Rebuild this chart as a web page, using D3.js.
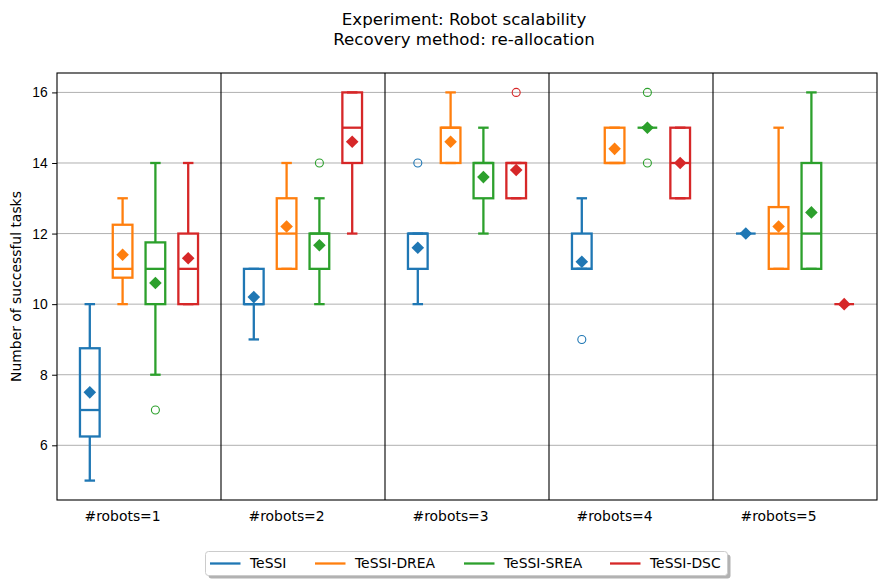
<!doctype html>
<html lang="en">
<head>
  <meta charset="utf-8">
  <title>Robot scalability</title>
  <style>
    body { margin: 0; background: #fff; }
    svg { font-family: "DejaVu Sans", sans-serif; }
    .grid line { stroke: #b0b0b0; stroke-width: 1; }
    .tick text { font-size: 13.9px; fill: #000; }
  </style>
</head>
<body>
  <div id="chart"></div>

  <script src="https://d3js.org/d3.v7.min.js"></script>
  <script>
    // groups along x and the four methods
    const categories = ['#robots=1', '#robots=2', '#robots=3', '#robots=4', '#robots=5'];
    const methods = ['TeSSI', 'TeSSI-DREA', 'TeSSI-SREA', 'TeSSI-DSC'];
    const colors = ['#1f77b4', '#ff7f0e', '#2ca02c', '#d62728'];
    const yTicks = [6, 8, 10, 12, 14, 16];

    // box stats per group: [whisker low, q1, median, q3, whisker high]
    const tessiBoxes = [[5, 6.25, 7, 8.75, 10], [9, 10, 10, 11, 11], [10, 11, 12, 12, 12], [11, 11, 11, 12, 13], [12, 12, 12, 12, 12]];
    const dreaBoxes = [[10, 10.75, 11, 12.25, 13], [11, 11, 12, 13, 14], [14, 14, 15, 15, 16], [14, 14, 14, 15, 15], [11, 11, 12, 12.75, 15]];
    const sreaBoxes = [[8, 10, 11, 11.75, 14], [10, 11, 12, 12, 13], [12, 13, 14, 14, 15], [15, 15, 15, 15, 15], [11, 11, 12, 14, 16]];
    const dscBoxes = [[10, 10, 11, 12, 14], [12, 14, 15, 16, 16], [13, 13, 14, 14, 14], [13, 13, 14, 15, 15], [10, 10, 10, 10, 10]];

    // means per group
    const tessiMeans = [7.5, 10.2, 11.6, 11.2, 12];
    const dreaMeans = [11.4, 12.2, 14.6, 14.4, 12.2];
    const sreaMeans = [10.6, 11.67, 13.6, 15, 12.6];
    const dscMeans = [11.3, 14.6, 13.8, 14, 10];

    // outliers per group
    const tessiFliers = [[], [], [14], [9], []];
    const dreaFliers = [[], [], [], [], []];
    const sreaFliers = [[7], [14], [], [14, 16], []];
    const dscFliers = [[], [], [16], [], []];

    const boxes = [tessiBoxes, dreaBoxes, sreaBoxes, dscBoxes];
    const means = [tessiMeans, dreaMeans, sreaMeans, dscMeans];
    const fliers = [tessiFliers, dreaFliers, sreaFliers, dscFliers];

    const width = 890, height = 586;
    const plotLeft = 57, plotRight = 877, plotTop = 73, plotBottom = 500;

    const svg = d3.select('#chart').append('svg')
      .attr('width', width)
      .attr('height', height);

    // 5 slots per group, boxes at slots 1..4, divider at slot 5
    const x = d3.scaleLinear().domain([0, 25]).range([plotLeft, plotRight]);
    const y = d3.scaleLinear().domain([4.45, 16.55]).range([plotBottom, plotTop]);
    const pos = (g, m) => 5 * g + m + 1;
    const boxW = x(0.6) - x(0);
    const capW = x(0.32) - x(0);

    // grid
    svg.append('g').attr('class', 'grid')
      .selectAll('line')
      .data(yTicks)
      .join('line')
      .attr('x1', plotLeft).attr('x2', plotRight)
      .attr('y1', d => y(d)).attr('y2', d => y(d));

    // group dividers
    svg.append('g')
      .selectAll('line')
      .data(d3.range(1, 5))
      .join('line')
      .attr('x1', d => x(5 * d)).attr('x2', d => x(5 * d))
      .attr('y1', plotTop).attr('y2', plotBottom)
      .attr('stroke', '#000').attr('stroke-width', 1.1);

    // y axis
    const yAxis = d3.axisLeft(y).tickValues(yTicks).tickSize(4.9).tickPadding(4.5).tickFormat(d3.format('d'));
    svg.append('g')
      .attr('transform', `translate(${plotLeft},0)`)
      .call(yAxis)
      .call(g => g.select('.domain').remove())
      .call(g => g.selectAll('.tick line').attr('stroke', '#000').attr('stroke-width', 1));

    // spines
    svg.append('rect')
      .attr('x', plotLeft).attr('y', plotTop)
      .attr('width', plotRight - plotLeft).attr('height', plotBottom - plotTop)
      .attr('fill', 'none').attr('stroke', '#000').attr('stroke-width', 1.1);

    // group labels
    svg.append('g')
      .selectAll('text')
      .data(categories)
      .join('text')
      .attr('x', (d, i) => x(pos(i, 1)))
      .attr('y', 521)
      .attr('text-anchor', 'middle')
      .attr('font-size', '13.9px')
      .text(d => d);

    // boxes
    methods.forEach((name, m) => {
      const c = colors[m];
      const g = svg.append('g').attr('stroke', c).attr('stroke-width', 2.3).attr('fill', 'none');
      const rows = boxes[m].map((b, i) => ({ i, b, cx: x(pos(i, m)) }));

      g.selectAll('.box').data(rows).join('rect').attr('class', 'box')
        .attr('x', d => d.cx - boxW / 2)
        .attr('y', d => y(d.b[3]))
        .attr('width', boxW)
        .attr('height', d => y(d.b[1]) - y(d.b[3]));

      g.selectAll('.whisk-lo').data(rows).join('line').attr('class', 'whisk-lo')
        .attr('x1', d => d.cx).attr('x2', d => d.cx)
        .attr('y1', d => y(d.b[1])).attr('y2', d => y(d.b[0]));
      g.selectAll('.whisk-hi').data(rows).join('line').attr('class', 'whisk-hi')
        .attr('x1', d => d.cx).attr('x2', d => d.cx)
        .attr('y1', d => y(d.b[3])).attr('y2', d => y(d.b[4]));

      g.selectAll('.cap').data(rows.flatMap(d => [{ cx: d.cx, v: d.b[0] }, { cx: d.cx, v: d.b[4] }]))
        .join('line').attr('class', 'cap')
        .attr('x1', d => d.cx - capW / 2).attr('x2', d => d.cx + capW / 2)
        .attr('y1', d => y(d.v)).attr('y2', d => y(d.v));

      g.selectAll('.median').data(rows).join('line').attr('class', 'median')
        .attr('x1', d => d.cx - boxW / 2).attr('x2', d => d.cx + boxW / 2)
        .attr('y1', d => y(d.b[2])).attr('y2', d => y(d.b[2]));

      // mean diamonds
      svg.append('g').selectAll('path')
        .data(means[m])
        .join('path')
        .attr('transform', (d, i) => `translate(${x(pos(i, m))},${y(d)})`)
        .attr('d', 'M0,-6.3L6.3,0L0,6.3L-6.3,0Z')
        .attr('fill', c);

      // outliers
      svg.append('g').selectAll('circle')
        .data(fliers[m].flatMap((arr, i) => arr.map(v => ({ i, v }))))
        .join('circle')
        .attr('cx', d => x(pos(d.i, m)))
        .attr('cy', d => y(d.v))
        .attr('r', 4)
        .attr('fill', 'none')
        .attr('stroke', c)
        .attr('stroke-width', 1.1);
    });

    // y label
    svg.append('text')
      .attr('transform', `translate(20.5,${(plotTop + plotBottom) / 2}) rotate(-90)`)
      .attr('text-anchor', 'middle')
      .attr('font-size', '13.9px')
      .text('Number of successful tasks');

    // title
    const title = svg.append('text')
      .attr('text-anchor', 'middle')
      .attr('font-size', '16.67px');
    title.append('tspan').attr('x', 464).attr('y', 25).text('Experiment: Robot scalability');
    title.append('tspan').attr('x', 464).attr('y', 45).text('Recovery method: re-allocation');

    // legend
    const legendX = [210, 315, 464, 610];
    const legend = svg.append('g');
    legend.append('rect')
      .attr('x', 208.5).attr('y', 554.5).attr('width', 522).attr('height', 24).attr('rx', 3)
      .attr('fill', '#7f7f7f').attr('opacity', 0.6);
    legend.append('rect')
      .attr('x', 205.5).attr('y', 551.5).attr('width', 522).attr('height', 24).attr('rx', 3)
      .attr('fill', '#fff').attr('stroke', '#cccccc').attr('stroke-width', 1);
    const items = legend.selectAll('g.item')
      .data(methods)
      .join('g')
      .attr('class', 'item')
      .attr('transform', (d, i) => `translate(${legendX[i]},563.5)`);
    items.append('line')
      .attr('x1', 0).attr('x2', 30.5)
      .attr('stroke', (d, i) => colors[i]).attr('stroke-width', 2.3);
    items.append('text')
      .attr('x', 40).attr('y', 4.8)
      .attr('font-size', '13.9px')
      .text(d => d);
  </script>
</body>
</html>
